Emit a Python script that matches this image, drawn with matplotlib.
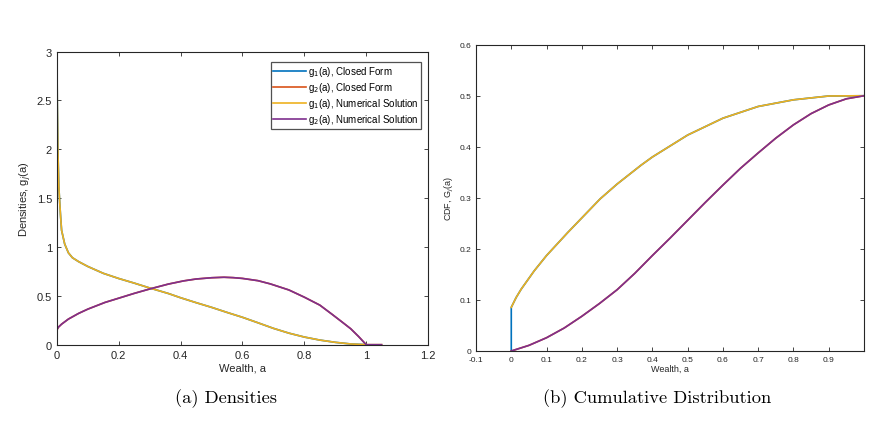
import numpy as np
import matplotlib.pyplot as plt

# densities
a_g1 = [0.0, 0.001, 0.003, 0.006, 0.009, 0.012, 0.015, 0.025, 0.037, 0.05, 0.07,
        0.1, 0.15, 0.2, 0.25, 0.3, 0.36, 0.4, 0.45, 0.5, 0.55, 0.6, 0.65, 0.7,
        0.75, 0.8, 0.85, 0.9, 0.95, 1.0]
g1_vals = [3.0, 2.5, 2.0, 1.62, 1.45, 1.3, 1.17, 1.03, 0.94, 0.89, 0.85,
           0.80, 0.73, 0.677, 0.63, 0.58, 0.524, 0.48, 0.43, 0.382, 0.33, 0.28,
           0.224, 0.167, 0.118, 0.078, 0.047, 0.024, 0.007, 0.0]
a_g2 = [0.0, 0.005, 0.015, 0.037, 0.07, 0.1, 0.155, 0.2, 0.25, 0.3, 0.36, 0.41,
        0.45, 0.5, 0.54, 0.57, 0.6, 0.65, 0.69, 0.75, 0.8, 0.85, 0.89, 0.92,
        0.95, 0.975, 1.0]
g2_vals = [0.153, 0.18, 0.21, 0.262, 0.32, 0.364, 0.432, 0.476, 0.525, 0.57,
           0.62, 0.653, 0.672, 0.685, 0.69, 0.686, 0.678, 0.655, 0.622, 0.56,
           0.486, 0.405, 0.31, 0.237, 0.163, 0.085, 0.0]
a_tail = [1.05]
tail_vals = [0.0]

# cumulative distributions
a_G1 = [0.0, 0.014, 0.028, 0.065, 0.1, 0.16, 0.206, 0.252, 0.3, 0.368, 0.4,
        0.5, 0.6, 0.7, 0.8, 0.9, 1.0]
G1_vals = [0.0855, 0.105, 0.121, 0.157, 0.187, 0.232, 0.265, 0.298, 0.327,
           0.364, 0.380, 0.423, 0.456, 0.479, 0.492, 0.4995, 0.5]
a_G2 = [0.0, 0.05, 0.1, 0.15, 0.2, 0.25, 0.3, 0.35, 0.4, 0.45, 0.5, 0.55, 0.6,
        0.65, 0.7, 0.75, 0.8, 0.85, 0.9, 0.95, 1.0]
G2_vals = [0.0, 0.011, 0.026, 0.045, 0.068, 0.093, 0.12, 0.152, 0.187, 0.221,
           0.256, 0.291, 0.325, 0.358, 0.388, 0.417, 0.443, 0.465, 0.482, 0.494,
           0.5]

c_blue = '#0072BD'
c_red = '#D95319'
c_yellow = '#EDB120'
c_purple = '#7E2F8E'
c_text = '#262626'

plt.rcParams['font.family'] = ['Liberation Sans Narrow', 'Liberation Sans', 'DejaVu Sans']

fig = plt.figure(figsize=(8.71, 4.31), dpi=100)

# ---------- (a) densities ----------
ax1 = fig.add_axes([0.0654, 0.198, 0.426, 0.680])
ax1.plot(a_g1, g1_vals, color=c_blue, lw=1.2, label='g$_1$(a), Closed Form')
ax1.plot(a_g2, g2_vals, color=c_red, lw=1.2, label='g$_2$(a), Closed Form')
ax1.plot(a_g1 + a_tail, g1_vals + tail_vals, color=c_yellow, lw=1.2,
         label='g$_1$(a), Numerical Solution')
ax1.plot(a_g2 + a_tail, g2_vals + tail_vals, color=c_purple, lw=1.2,
         label='g$_2$(a), Numerical Solution')
ax1.set_xlim(0, 1.2)
ax1.set_ylim(0, 3)
ax1.set_xticks(np.arange(0, 1.21, 0.2))
ax1.set_xticklabels(['0', '0.2', '0.4', '0.6', '0.8', '1', '1.2'])
ax1.set_yticks(np.arange(0, 3.01, 0.5))
ax1.set_yticklabels(['0', '0.5', '1', '1.5', '2', '2.5', '3'])
ax1.tick_params(direction='in', top=True, right=True, labelsize=8, length=3,
                colors=c_text, width=0.6)
ax1.set_xlabel('Wealth, a', fontsize=8, color=c_text, labelpad=2)
ax1.set_ylabel('Densities, g$_j$(a)', fontsize=8, color=c_text, labelpad=2)
leg = ax1.legend(loc='upper right', fontsize=7, frameon=True, fancybox=False,
                 edgecolor=c_text, handlelength=3.4, borderpad=0.25,
                 labelspacing=0.2, handletextpad=0.2, borderaxespad=0.3,
                 bbox_to_anchor=(0.99, 0.975))
leg.get_frame().set_linewidth(0.9)

# ---------- (b) CDF ----------
ax2 = fig.add_axes([0.5465, 0.1833, 0.4455, 0.7107])
ax2.plot([0.0] + a_G1, [0.0] + G1_vals, color=c_blue, lw=1.2)
ax2.plot(a_G2, G2_vals, color=c_red, lw=1.2)
ax2.plot(a_G1, G1_vals, color=c_yellow, lw=1.2)
ax2.plot(a_G2, G2_vals, color=c_purple, lw=1.2)
ax2.set_xlim(-0.1, 1.0)
ax2.set_ylim(0, 0.6)
ax2.set_xticks(np.arange(-0.1, 0.91, 0.1))
ax2.set_xticklabels(['-0.1', '0', '0.1', '0.2', '0.3', '0.4', '0.5', '0.6',
                     '0.7', '0.8', '0.9'])
ax2.set_yticks(np.arange(0, 0.61, 0.1))
ax2.set_yticklabels(['0', '0.1', '0.2', '0.3', '0.4', '0.5', '0.6'])
ax2.tick_params(direction='in', top=True, right=True, labelsize=6, length=3,
                colors=c_text, width=0.6)
ax2.set_xlabel('Wealth, a', fontsize=6.5, color=c_text, labelpad=1)
ax2.set_ylabel('CDF, G$_j$(a)', fontsize=6.5, color=c_text, labelpad=2)

for ax in (ax1, ax2):
    for sp in ax.spines.values():
        sp.set_linewidth(0.8)
        sp.set_color(c_text)

# captions
fig.text(0.2595, 0.074, '(a) Densities', fontsize=13.3, family='cmr10',
         ha='center', va='center')
fig.text(0.754, 0.074, '(b) Cumulative Distribution', fontsize=13.3,
         family='cmr10', ha='center', va='center')

fig.savefig('out.png', dpi=100)
